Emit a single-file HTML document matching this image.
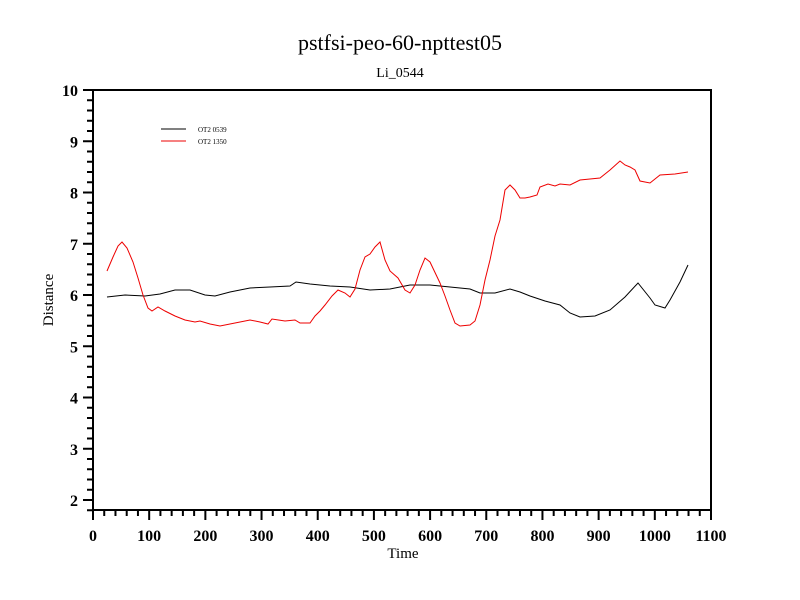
<!DOCTYPE html>
<html><head><meta charset="utf-8"><style>body{margin:0;background:#fff}svg{display:block}</style></head>
<body>
<svg width="800" height="600" xmlns="http://www.w3.org/2000/svg" font-family="Liberation Serif, serif">
<rect width="800" height="600" fill="#fff"/>
<text x="400" y="50" font-size="22" text-anchor="middle">pstfsi-peo-60-npttest05</text>
<text x="400" y="77" font-size="14" text-anchor="middle">Li_0544</text>
<rect x="93" y="90" width="618" height="420" fill="none" stroke="#000" stroke-width="2"/>
<g id="ticks" stroke="#000" stroke-width="2"></g>
<g id="labels" font-size="16" font-weight="bold"></g>
<text x="403" y="558" font-size="15" text-anchor="middle">Time</text>
<text transform="translate(53,300) rotate(-90)" font-size="15" text-anchor="middle">Distance</text>
<line x1="161" y1="129" x2="186" y2="129" stroke="#000"/>
<line x1="161" y1="141" x2="186" y2="141" stroke="#e00"/>
<text x="198" y="132" font-size="7">OT2 0539</text>
<text x="198" y="144" font-size="7">OT2 1350</text>
<polyline fill="none" stroke="#000" stroke-width="1" points="107,297 125,295 145,296 160,294 175,290 190,290 205,295 215,296 230,292 250,288 270,287 290,286 296,282 310,284 330,286 350,287 370,290 390,289 410,285 430,285 450,287 470,289 480,293 495,293 510,289 520,292 530,296 545,301 560,305 570,313 580,317 595,316 610,310 625,297 638,283 650,298 655,305 665,308 670,300 680,282 688,265"/>
<polyline fill="none" stroke="#e00" stroke-width="1" points="107,271 113,257 118,246 122,242 127,248 133,262 138,278 143,295 148,308 152,311 158,307 165,311 175,316 185,320 195,322 200,321 210,324 220,326 235,323 250,320 260,322 268,324 272,319 285,321 295,320 300,323 310,323 315,316 320,311 325,305 332,296 338,290 345,293 350,297 355,289 360,270 365,257 370,254 375,247 380,242 385,260 390,271 398,278 405,290 410,293 415,285 420,270 425,258 430,262 440,283 445,296 450,310 455,323 460,326 470,325 475,321 480,305 485,280 490,260 495,236 500,220 505,190 510,185 515,190 520,198 525,198 530,197 537,195 540,187 548,184 555,186 560,184 570,185 580,180 590,179 600,178 610,170 620,161 625,165 630,167 635,170 640,181 650,183 660,175 675,174 688,172"/>
<script>
var t=document.getElementById('ticks'),l=document.getElementById('labels'),ns='http://www.w3.org/2000/svg';
function ln(a,b,c,d){var e=document.createElementNS(ns,'line');e.setAttribute('x1',a);e.setAttribute('y1',b);e.setAttribute('x2',c);e.setAttribute('y2',d);t.appendChild(e);}
function tx(x,y,s,a){var e=document.createElementNS(ns,'text');e.setAttribute('x',x);e.setAttribute('y',y);e.setAttribute('text-anchor',a);e.textContent=s;l.appendChild(e);}
for(var v=0;v<=1100;v+=20){var x=93+v*618/1100;var M=v%100==0;ln(x,510,x,M?520:516);if(M)tx(x,541,v,'middle');}
for(var r=18;r<=100;r+=2){var y=90+(100-r)*5.125;var M=r%10==0;ln(93,y,M?83:87,y);if(M)tx(78,y+6,String(r/10),'end');}
</script>
</svg>
</body></html>
